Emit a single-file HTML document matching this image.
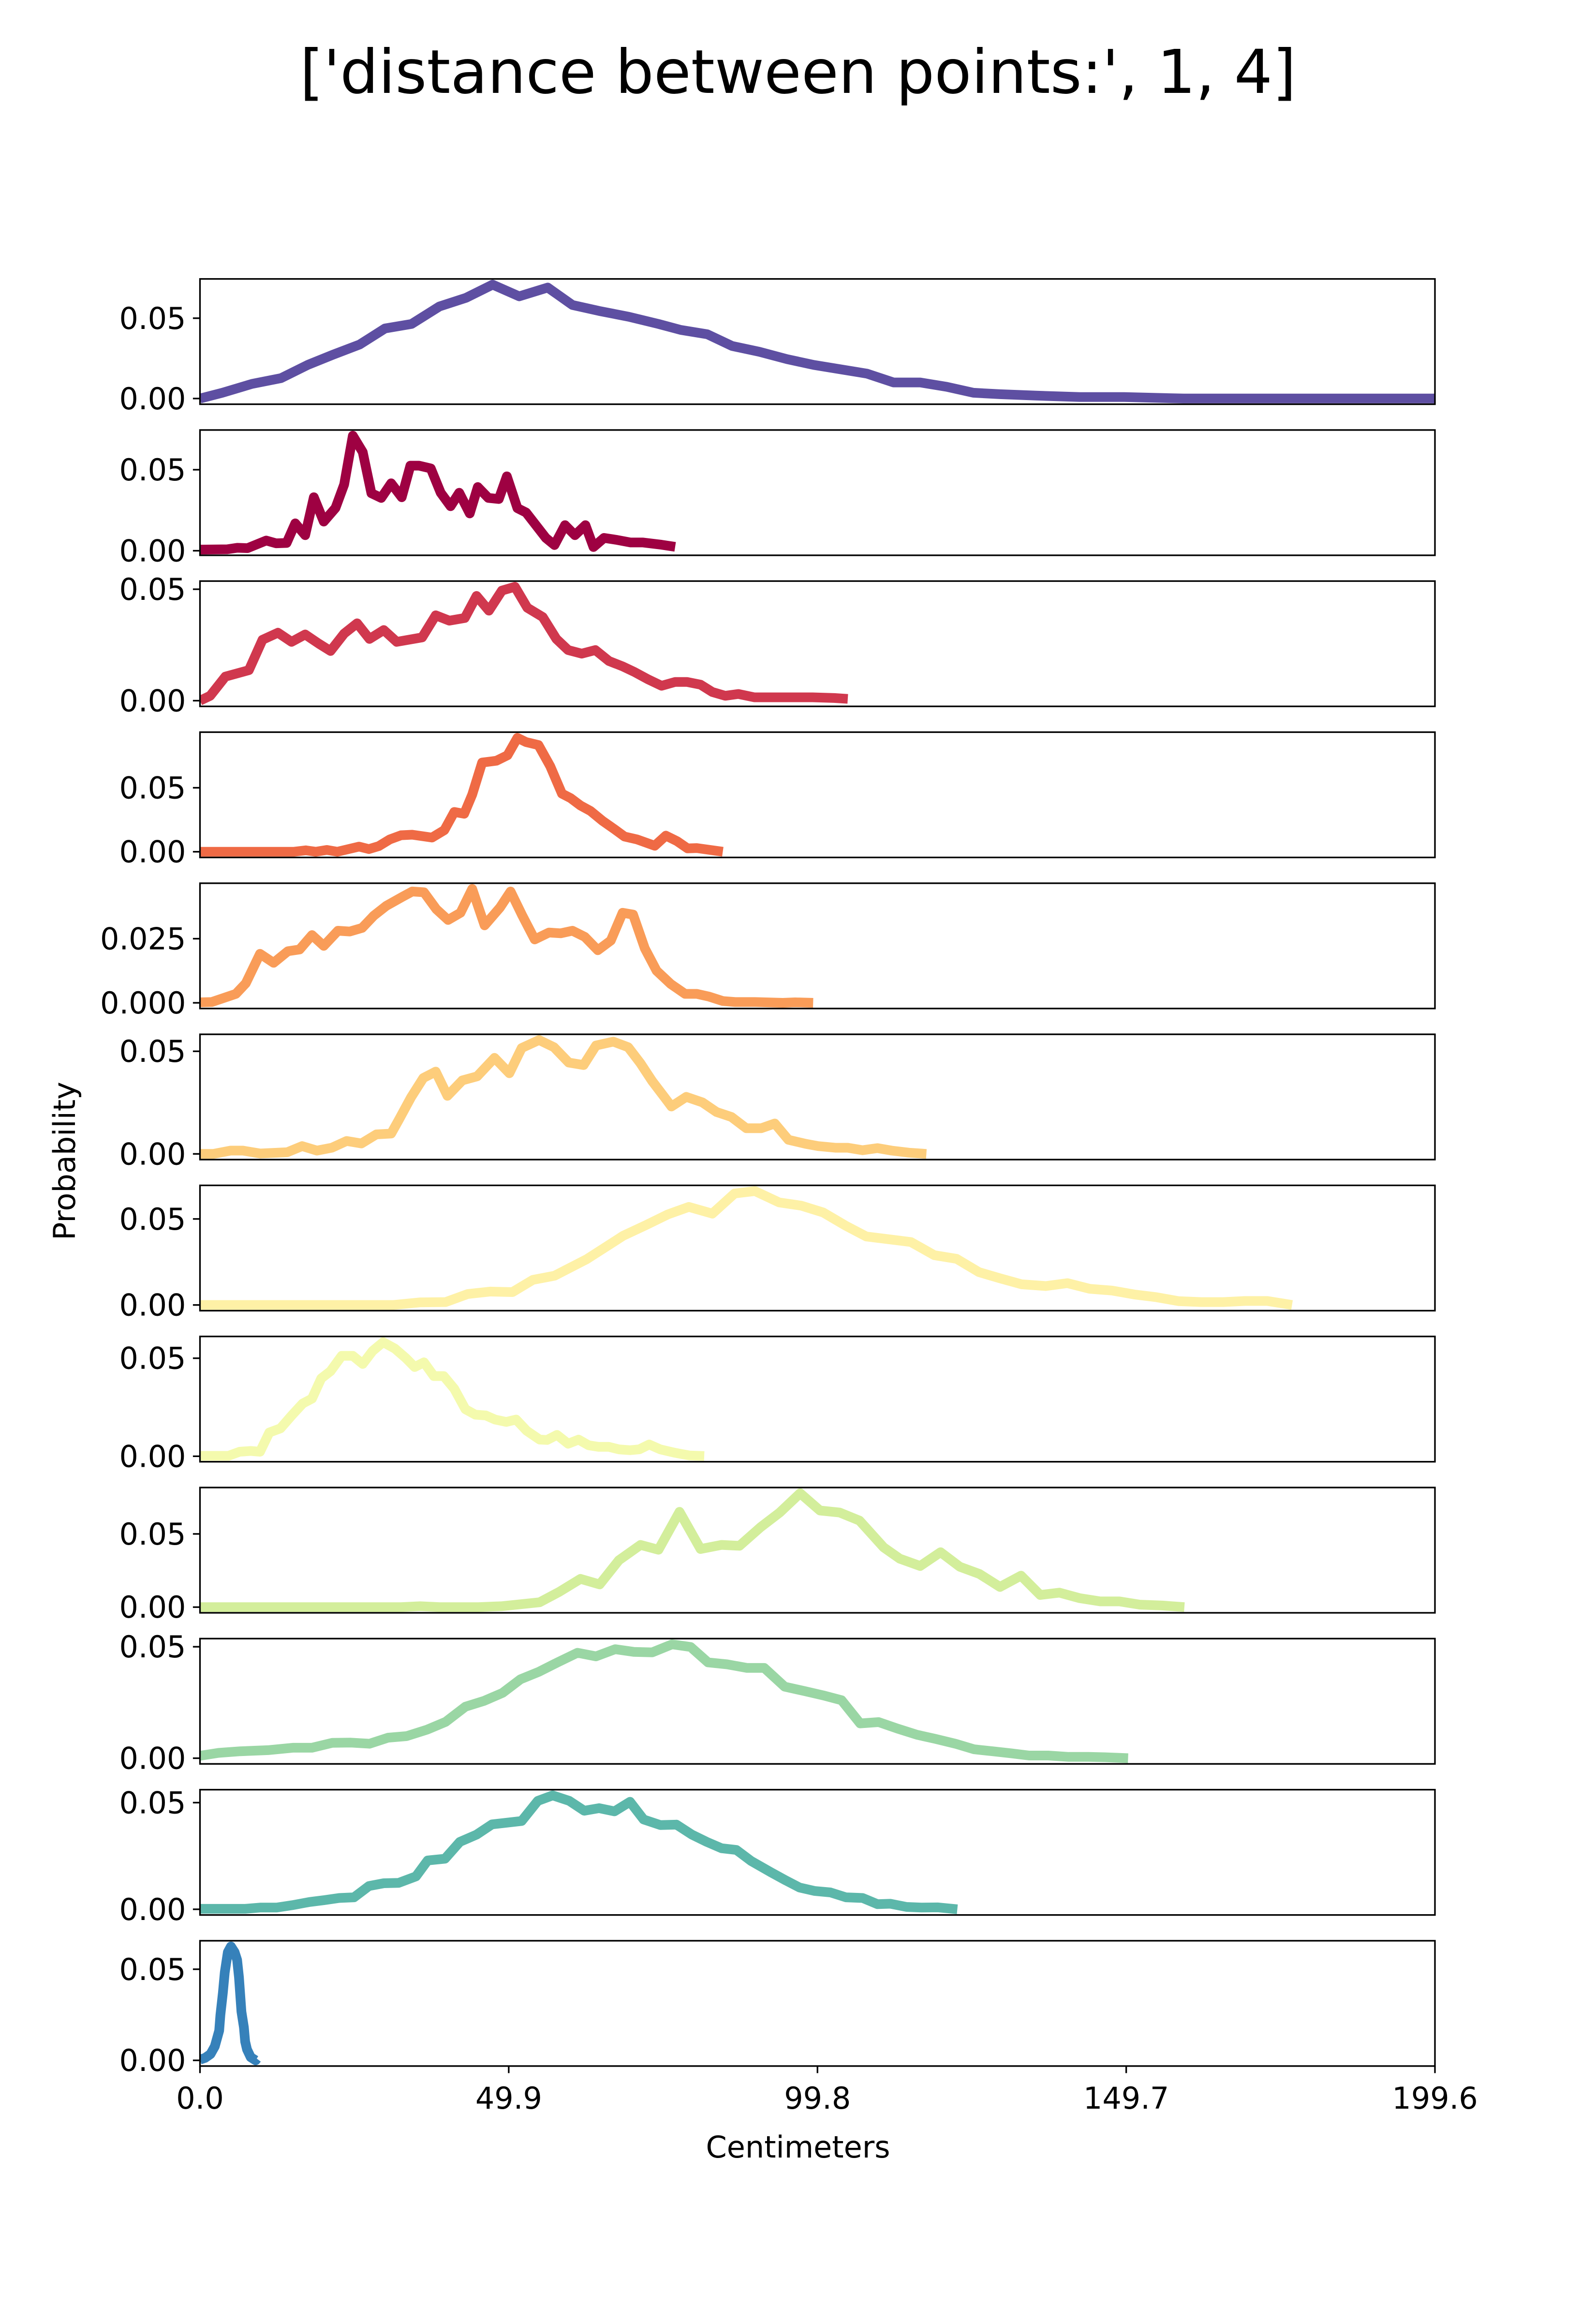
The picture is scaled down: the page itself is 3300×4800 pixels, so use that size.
<!DOCTYPE html>
<html><head><meta charset="utf-8"><title>distance between points</title>
<style>html,body{margin:0;padding:0;background:#fff}svg{display:block}text{font-family:"DejaVu Sans","Liberation Sans",sans-serif;fill:#000}</style>
</head><body>
<svg id="fig" xmlns="http://www.w3.org/2000/svg" width="3300" height="4800" viewBox="0 0 3300 4800">
<rect width="3300" height="4800" fill="#fff"/>
<text x="1650" y="192" font-size="125" text-anchor="middle">['distance between points:', 1, 4]</text>
<text x="1650" y="4460" font-size="62" text-anchor="middle">Centimeters</text>
<text x="0" y="0" font-size="62" text-anchor="middle" transform="translate(155,2400) rotate(-90)">Probability</text>
<g id="panels"></g>
</svg>
<script>
const xTickValues = [0, 49.9, 99.8, 149.7, 199.6];
const xTickLabels = ["0.0", "49.9", "99.8", "149.7", "199.6"];
const xDomain = [0, 199.6];

const x_p1 = [0,3.6,8.4,13.1,17.4,21.5,25.8,29.9,34.2,38.7,43.0,47.3,51.6,56.2,60.2,64.5,69.3,74.1,77.7,82.0,86.0,90.4,94.9,99.2,103.5,107.8,112.1,116.4,120.7,125.0,129.3,135.1,142.2,149.4,159.0,170.9,182.9,199.6];
const y_p1 = [0,0.0036,0.0091,0.0127,0.0209,0.0273,0.0336,0.0436,0.0464,0.0573,0.0627,0.0709,0.0636,0.0691,0.0582,0.0545,0.0509,0.0464,0.0427,0.0400,0.0327,0.0291,0.0245,0.0209,0.0182,0.0155,0.0100,0.0100,0.0073,0.0036,0.0027,0.0018,0.0009,0.0009,0,0,0,0];

const x_p2 = [0,4.39,6.03,7.68,10.7,12.3,14.0,15.4,17.0,18.4,20.0,21.9,23.3,24.7,26.3,27.7,29.3,30.9,32.6,34.0,35.4,37.3,38.9,40.5,41.9,43.6,44.9,46.6,48.3,49.6,51.3,52.7,55.9,57.3,59.0,60.6,62.3,63.6,65.3,67.2,69.6,71.6,74.6,76.8];
const y_p2 = [0.0007,0.0009,0.0018,0.0016,0.0063,0.0046,0.0048,0.0169,0.0096,0.0330,0.0180,0.0264,0.0409,0.0710,0.0609,0.0355,0.0326,0.0416,0.0330,0.0525,0.0525,0.0508,0.0358,0.0275,0.0358,0.0230,0.0393,0.0326,0.0319,0.0459,0.0263,0.0236,0.0079,0.0035,0.0158,0.0096,0.0158,0.0023,0.0079,0.0068,0.0051,0.0051,0.0037,0.0024];

const x_p3 = [0,1.65,4.1,7.9,10.1,12.6,14.8,17.0,19.2,21.1,23.3,25.4,27.4,29.7,31.8,35.9,38.1,40.3,42.8,44.7,46.7,48.8,50.9,52.9,55.4,57.6,59.5,61.7,63.9,66.1,68.3,70.2,72.4,74.6,76.8,78.7,80.9,82.8,84.9,87.0,89.6,94.0,99.0,102.5,104.7];
const y_p3 = [0,0.0022,0.0108,0.0137,0.0273,0.0305,0.0264,0.0297,0.0256,0.0223,0.0301,0.0347,0.0277,0.0317,0.0264,0.0284,0.0383,0.0359,0.0371,0.0470,0.0404,0.0494,0.0511,0.0417,0.0375,0.0277,0.0227,0.0211,0.0227,0.0178,0.0154,0.0129,0.0096,0.0067,0.0084,0.0084,0.0072,0.0039,0.0022,0.0030,0.0015,0.0015,0.0015,0.0012,0.0008];

const x_p4 = [0,15.2,17.1,18.7,20.5,22.2,25.7,27.3,28.9,30.7,32.5,34.3,37.5,39.5,41.1,42.7,44.0,45.6,47.9,49.7,51.3,52.7,54.7,56.6,58.5,59.9,61.5,63.1,65.1,67.0,68.6,70.6,73.5,75.3,77.1,78.8,80.3,84.5];
const y_p4 = [0,0,0.0011,0,0.0014,0,0.0040,0.0021,0.0044,0.0097,0.0129,0.0133,0.0111,0.0169,0.0311,0.0297,0.0447,0.0697,0.0711,0.0754,0.0890,0.0857,0.0834,0.0669,0.0454,0.0419,0.0361,0.0319,0.0240,0.0176,0.0119,0.0097,0.0047,0.0126,0.0083,0.0026,0.0029,0];

const x_p5 = [0,1.9,5.8,7.4,9.7,11.9,14.2,16.1,18.1,20.0,22.3,24.2,26.2,28.1,30.1,32.7,34.3,36.2,38.2,40.1,42.1,44.0,46.0,48.5,50.2,52.1,54.1,56.4,58.3,60.2,62.2,64.3,66.4,68.3,70.0,71.9,73.8,76.1,78.4,80.3,82.3,84.5,86.5,89.7,94.2,96.2,99.1];
const y_p5 = [0.0002,0.0003,0.0035,0.0076,0.0191,0.0156,0.0201,0.0208,0.0264,0.0222,0.0281,0.0278,0.0292,0.0340,0.0378,0.0413,0.0434,0.0431,0.0365,0.0323,0.0351,0.0444,0.0302,0.0372,0.0434,0.0340,0.0247,0.0274,0.0271,0.0281,0.0257,0.0205,0.0243,0.0351,0.0344,0.0212,0.0125,0.0073,0.0035,0.0035,0.0024,0.0007,0.0003,0.0003,0,0.0002,0];

const x_p6 = [0,2.15,4.95,6.94,9.73,14.1,16.5,18.9,21.3,23.7,26.1,28.5,30.9,32.1,34.1,36.1,38.1,40.0,42.4,44.8,47.6,50.0,52.0,54.8,57.2,59.6,62.0,64.0,66.8,69.2,71.2,73.1,75.1,76.2,78.6,81.2,83.5,85.9,88.3,90.7,92.9,95.1,97.9,99.9,102.7,104.7,107.1,109.5,111.8,114.6,117.4];
const y_p6 = [0,0,0.0016,0.0016,0.0002,0.0008,0.0038,0.0016,0.0030,0.0063,0.0051,0.0095,0.0099,0.0164,0.0275,0.0370,0.0401,0.0283,0.0358,0.0378,0.0468,0.0393,0.0516,0.0555,0.0520,0.0445,0.0433,0.0528,0.0547,0.0520,0.0441,0.0354,0.0275,0.0231,0.0278,0.0251,0.0204,0.0180,0.0125,0.0125,0.0148,0.0069,0.0049,0.0038,0.0030,0.0030,0.0018,0.0028,0.0016,0.0006,0];

const x_p7 = [0,31.3,35.5,39.7,43.3,46.9,50.5,53.8,57.3,62.5,68.4,72.0,75.6,79.0,82.8,86.4,89.7,93.6,97.2,100.7,104.3,107.7,111.5,114.9,118.7,122.3,125.9,129.3,132.8,136.7,140.2,143.8,147.4,151.0,154.6,158.2,161.8,165.4,168.9,172.5,176.5];
const y_p7 = [0,0,0.0015,0.0017,0.0064,0.0078,0.0075,0.0146,0.0170,0.0266,0.0402,0.0463,0.0526,0.0570,0.0531,0.0648,0.0662,0.0596,0.0577,0.0538,0.0462,0.0398,0.0381,0.0366,0.0289,0.0268,0.0191,0.0155,0.0120,0.0110,0.0127,0.0094,0.0084,0.0061,0.0045,0.0022,0.0017,0.0017,0.0023,0.0023,0];

const x_p8 = [0,4.6,6.4,8.2,9.7,11.2,13.0,14.8,16.6,18.1,19.6,21.1,22.9,24.7,26.3,27.9,29.6,31.5,33.3,34.7,36.2,37.8,39.4,41.1,42.9,44.5,46.2,47.7,49.5,51.1,52.8,54.9,56.1,57.7,59.5,61.2,62.8,64.4,66.1,67.7,69.5,71.0,72.6,74.4,76.7,79.1,81.5];
const y_p8 = [0.0002,0.0002,0.0023,0.0027,0.0023,0.0121,0.0142,0.0207,0.0269,0.0294,0.0397,0.0434,0.0512,0.0512,0.0471,0.0537,0.0582,0.0549,0.0500,0.0455,0.0479,0.0409,0.0409,0.0344,0.0240,0.0212,0.0208,0.0187,0.0175,0.0187,0.0130,0.0085,0.0083,0.0109,0.0064,0.0085,0.0056,0.0048,0.0048,0.0035,0.0031,0.0035,0.0060,0.0035,0.0018,0.0004,0.0001];

const x_p9 = [0,32.5,35.6,38.7,45.0,48.7,54.9,58.1,61.5,64.6,67.7,71.2,74.1,77.5,80.9,84.3,87.2,90.6,93.7,97.0,100.2,103.4,106.6,110.5,113.1,116.4,119.7,122.8,126.0,129.3,132.7,135.8,138.9,142.2,145.5,148.6,151.9,155.5,159.1];
const y_p9 = [0,0,0.0006,0,0,0.0006,0.0033,0.0105,0.0193,0.0155,0.0320,0.0425,0.0392,0.0651,0.0397,0.0425,0.0419,0.0546,0.0646,0.0778,0.0660,0.0646,0.0591,0.0408,0.0331,0.0281,0.0375,0.0276,0.0226,0.0138,0.0215,0.0083,0.0099,0.0061,0.0039,0.0039,0.0017,0.0011,0];

const x_p10 = [0,3.0,6.5,11.0,15.0,18.1,21.4,24.4,27.4,30.4,33.4,36.7,39.7,42.9,45.9,48.9,51.8,54.8,57.8,61.0,64.0,67.1,70.1,73.1,76.3,79.3,82.1,85.2,88.4,91.2,94.5,97.7,100.7,103.7,106.7,109.7,112.7,115.9,118.8,122.1,125.1,128.1,131.1,134.0,137.1,140.4,143.6,146.6,150.0];
const y_p10 = [0.0011,0.0024,0.0031,0.0036,0.0047,0.0047,0.0069,0.0070,0.0065,0.0092,0.0099,0.0128,0.0163,0.0231,0.0257,0.0293,0.0354,0.0388,0.0430,0.0473,0.0457,0.0489,0.0477,0.0475,0.0511,0.0499,0.0430,0.0421,0.0405,0.0405,0.0321,0.0301,0.0282,0.0260,0.0156,0.0162,0.0133,0.0105,0.0087,0.0065,0.0040,0.0031,0.0022,0.0012,0.0012,0.0006,0.0006,0.0004,0];

const x_p11 = [0,7.3,9.7,12.4,14.9,17.7,20.1,22.5,24.9,27.3,29.7,32.1,34.9,36.8,39.6,42.0,44.7,47.2,52.0,54.6,57.0,59.7,62.1,64.5,67.0,69.5,71.7,74.4,77.0,79.5,81.9,84.3,86.7,89.1,92.3,94.7,96.9,99.3,101.9,104.4,107.1,109.5,111.6,114.2,116.6,119.3,122.4];
const y_p11 = [0.0002,0.0002,0.0008,0.0008,0.0019,0.0034,0.0043,0.0053,0.0056,0.0109,0.0122,0.0124,0.0154,0.0229,0.0237,0.0316,0.0350,0.0398,0.0414,0.0508,0.0534,0.0508,0.0462,0.0474,0.0459,0.0504,0.0421,0.0395,0.0397,0.0350,0.0316,0.0286,0.0278,0.0226,0.0173,0.0135,0.0102,0.0086,0.0079,0.0056,0.0053,0.0024,0.0026,0.0011,0.0008,0.0009,0];

const x_p12 = [0,0.8,1.7,2.4,3.1,3.3,3.7,4.0,4.5,5.0,5.6,6.0,6.3,6.7,7.1,7.3,7.6,8.2,9.0,9.2];
const y_p12 = [0.0004,0.0013,0.0034,0.0077,0.0163,0.0249,0.0370,0.0482,0.0594,0.0625,0.0594,0.0551,0.0456,0.0267,0.0181,0.0103,0.0060,0.0017,0,0.0009];

const yTicks_std = [0, 0.05];
const yTickLabels_std = ["0.00", "0.05"];
const yTicks_p5 = [0, 0.025];
const yTickLabels_p5 = ["0.000", "0.025"];

const seriesX = [x_p1,x_p2,x_p3,x_p4,x_p5,x_p6,x_p7,x_p8,x_p9,x_p10,x_p11,x_p12];
const seriesY = [y_p1,y_p2,y_p3,y_p4,y_p5,y_p6,y_p7,y_p8,y_p9,y_p10,y_p11,y_p12];
const colors = ["#5e4fa2","#9e0142","#d0384e","#ef6a45","#f99c58","#fdcd7b","#fef1a6","#f4faad","#d3ee9b","#9ad6a4","#5cb7aa","#3681ba"];

const NS = "http://www.w3.org/2000/svg";
const L = 413.5, R = 2967, H = 259, TOP0 = 576.6, STEP = 312.3;
const root = document.getElementById("panels");
function xScale(v){ return L + (v - xDomain[0]) / (xDomain[1] - xDomain[0]) * (R - L); }
function mk(tag, attrs){ const e = document.createElementNS(NS, tag); for (const k in attrs) e.setAttribute(k, attrs[k]); return e; }

seriesY.forEach((ys, i) => {
  const xs = seriesX[i];
  const top = TOP0 + i * STEP, bot = top + H;
  const mn = Math.min(...ys), mx = Math.max(...ys), sp = mx - mn;
  const y0 = mn - 0.05 * sp, y1 = mx + 0.05 * sp;
  const yScale = v => bot - (v - y0) / (y1 - y0) * H;
  const g = mk("g", {});
  
  
  root.appendChild(g);
  const cp = mk("clipPath", {id: "clip" + i});
  cp.appendChild(mk("rect", {x: L, y: top, width: R - L, height: H}));
  g.appendChild(cp);
  const d = xs.map((x, j) => (j ? "L" : "M") + xScale(x).toFixed(1) + "," + yScale(ys[j]).toFixed(1)).join(" ");
  const path = mk("path", {d: d, fill: "none", stroke: colors[i], "stroke-width": 20, "stroke-linejoin": "round", "stroke-linecap": "butt", "clip-path": "url(#clip" + i + ")"});
  
  
  g.appendChild(path);
  const frame = mk("rect", {x: L, y: top, width: R - L, height: H, fill: "none", stroke: "#000", "stroke-width": 3.3});
  
  
  g.appendChild(frame);
  const tv = i === 4 ? yTicks_p5 : yTicks_std;
  const tl = i === 4 ? yTickLabels_p5 : yTickLabels_std;
  tv.forEach((t, k) => {
    const yy = yScale(t);
    const tick = mk("line", {x1: L - 14.6, x2: L, y1: yy, y2: yy, stroke: "#000", "stroke-width": 3.3});
    
    
    g.appendChild(tick);
    const lab = mk("text", {x: L - 29, y: yy + 22, "font-size": 62, "text-anchor": "end"});
    
    
    lab.textContent = tl[k];
    g.appendChild(lab);
  });
  if (i === seriesY.length - 1) {
    xTickValues.forEach((t, k) => {
      const xx = xScale(t);
      const tick = mk("line", {x1: xx, x2: xx, y1: bot, y2: bot + 14.6, stroke: "#000", "stroke-width": 3.3});
      
      
      g.appendChild(tick);
      const lab = mk("text", {x: xx, y: bot + 88, "font-size": 62, "text-anchor": "middle"});
      
      
      lab.textContent = xTickLabels[k];
      g.appendChild(lab);
    });
  }
});
</script>
</body></html>
